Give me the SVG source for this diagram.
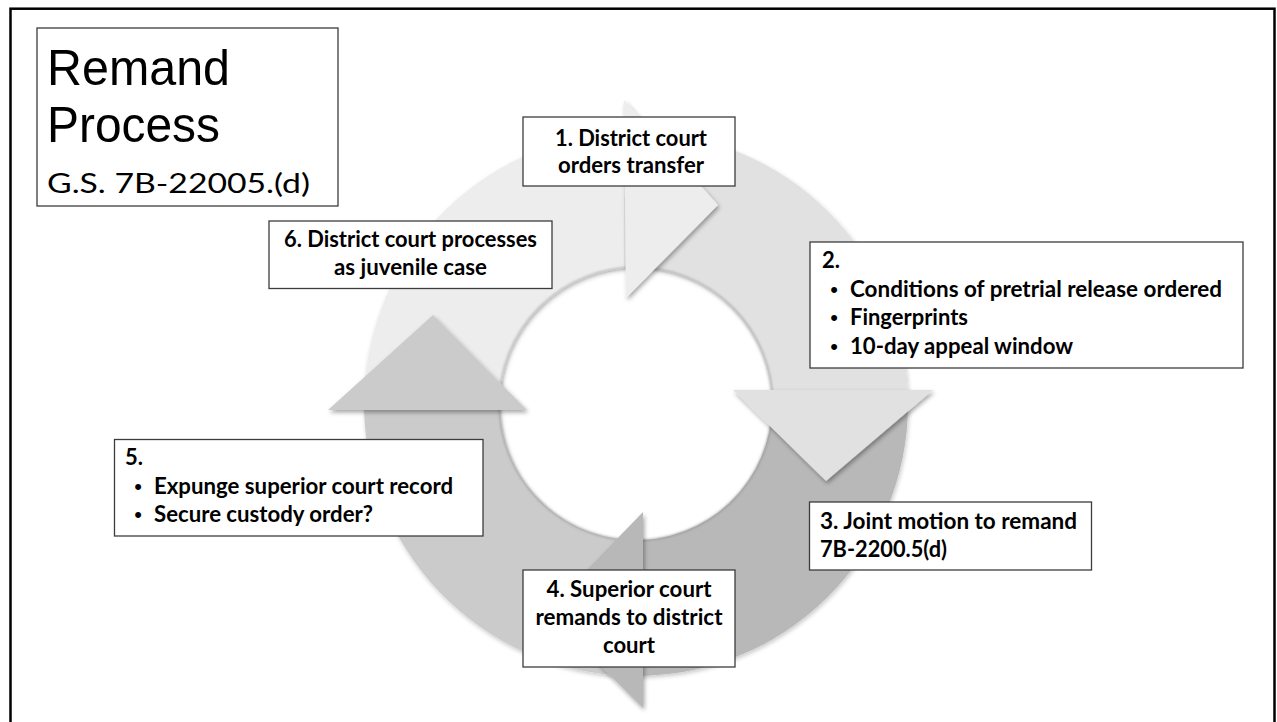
<svg xmlns="http://www.w3.org/2000/svg" width="1277" height="722" viewBox="0 0 1277 722">
  <defs>
    <style>
      .box { fill:#ffffff; stroke:#3c3c3c; stroke-width:1.3; }
      .t { font-family: Lato, "Open Sans", "Liberation Sans", sans-serif; font-weight:700; font-size:22px; fill:#000000; }
      .mid { text-anchor: middle; }
      .bul { font-family: "Liberation Sans", Arial, sans-serif; font-size:22px; fill:#000000; text-anchor: middle; }
      .title { font-family: "Liberation Sans", Arial, sans-serif; font-weight:400; fill:#000000; }
      .sub { font-family: Lato, "Open Sans", "Liberation Sans", sans-serif; font-weight:400; fill:#000000; }
      .a1 { fill:#ededed; }
      .a2 { fill:#e1e1e1; }
      .a3 { fill:#b8b8b8; }
      .a4 { fill:#cbcbcb; }
    </style>
    <filter id="shBody" x="-10%" y="-10%" width="120%" height="120%">
      <feDropShadow dx="1" dy="2" stdDeviation="2" flood-color="#000000" flood-opacity="0.22"/>
    </filter>
    <filter id="shHead" x="-20%" y="-20%" width="140%" height="140%">
      <feDropShadow dx="1.5" dy="2.5" stdDeviation="2.2" flood-color="#000000" flood-opacity="0.35"/>
    </filter>
    <filter id="blur1" x="-5%" y="-5%" width="110%" height="110%">
      <feGaussianBlur stdDeviation="1"/>
    </filter>
  </defs>

  <rect x="0" y="0" width="1277" height="722" fill="#ffffff"/>
  <!-- slide frame -->
  <rect x="10.5" y="8.7" width="1264" height="760" fill="none" stroke="#000000" stroke-width="2.5"/>

  <!-- cycle arrows (connectors) -->
  <g id="connectors">
    <g id="arrow-bodies" filter="url(#shBody)">
      <path class="a1" d="M364.07,410 A272,272 0 0 1 624,132.26 L624,268.53 A136,136 0 0 0 500.13,410 Z"/>
      <path class="a2" d="M624,132.26 A272,272 0 0 1 907.64,390 L771.28,390 A136,136 0 0 0 624,268.53 Z"/>
      <path class="a3" d="M907.64,390 A272,272 0 0 1 643,675.91 L643,539.82 A136,136 0 0 0 771.28,390 Z"/>
      <path class="a4" d="M643,675.91 A272,272 0 0 1 364.07,410 L500.13,410 A136,136 0 0 0 643,539.82 Z"/>
    </g>
    <circle cx="636" cy="404" r="136.5" fill="none" stroke="#8a8a8a" stroke-opacity="0.55" stroke-width="2" filter="url(#blur1)"/>
    <g id="arrow-heads" filter="url(#shHead)">
      <polygon class="a1" points="624,100 718,205 626,298"/>
      <polygon class="a2" points="733,390 933,390 826,481"/>
      <polygon class="a3" points="643,512 643,708 546,612"/>
      <polygon class="a4" points="328,410 527,410 433,315"/>
    </g>
  </g>

  <!-- title -->
  <g id="title">
    <rect class="box" x="37" y="28" width="301" height="178"/>
    <text class="title" x="47" y="85" font-size="50" textLength="183" lengthAdjust="spacingAndGlyphs">Remand</text>
    <text class="title" x="47" y="142" font-size="50" textLength="173" lengthAdjust="spacingAndGlyphs">Process</text>
    <text class="sub" x="47" y="193" font-size="27" textLength="263" lengthAdjust="spacingAndGlyphs">G.S. 7B-22005.(d)</text>
  </g>

  <!-- node 1 -->
  <g id="node1">
    <rect class="box" x="523" y="117" width="212" height="69"/>
    <text class="t mid" x="631" y="146" textLength="152" lengthAdjust="spacingAndGlyphs">1. District court</text>
    <text class="t mid" x="631" y="173" textLength="146" lengthAdjust="spacingAndGlyphs">orders transfer</text>
  </g>

  <!-- node 2 -->
  <g id="node2">
    <rect class="box" x="810" y="242" width="433" height="126"/>
    <text class="t" x="822" y="268">2.</text>
    <text class="bul" x="834" y="296.5">•</text>
    <text class="t" x="850" y="296.5" textLength="372" lengthAdjust="spacingAndGlyphs">Conditions of pretrial release ordered</text>
    <text class="bul" x="834" y="325">•</text>
    <text class="t" x="850" y="325" textLength="118" lengthAdjust="spacingAndGlyphs">Fingerprints</text>
    <text class="bul" x="834" y="353.5">•</text>
    <text class="t" x="850" y="353.5" textLength="223" lengthAdjust="spacingAndGlyphs">10-day appeal window</text>
  </g>

  <!-- node 3 -->
  <g id="node3">
    <rect class="box" x="809.5" y="502" width="282" height="68"/>
    <text class="t" x="820" y="529.3" textLength="257" lengthAdjust="spacingAndGlyphs">3. Joint motion to remand</text>
    <text class="t" x="820" y="557.3" textLength="127" lengthAdjust="spacingAndGlyphs">7B-2200.5(d)</text>
  </g>

  <!-- node 4 -->
  <g id="node4">
    <rect class="box" x="523" y="570" width="212" height="97"/>
    <text class="t mid" x="629" y="596.7" textLength="165" lengthAdjust="spacingAndGlyphs">4. Superior court</text>
    <text class="t mid" x="629" y="625" textLength="187" lengthAdjust="spacingAndGlyphs">remands to district</text>
    <text class="t mid" x="629" y="653.3" textLength="52" lengthAdjust="spacingAndGlyphs">court</text>
  </g>

  <!-- node 5 -->
  <g id="node5">
    <rect class="box" x="114.5" y="439.5" width="368.5" height="96.5"/>
    <text class="t" x="125" y="465">5.</text>
    <text class="bul" x="138" y="494">•</text>
    <text class="t" x="154" y="494" textLength="299" lengthAdjust="spacingAndGlyphs">Expunge superior court record</text>
    <text class="bul" x="138" y="522">•</text>
    <text class="t" x="154" y="522" textLength="219" lengthAdjust="spacingAndGlyphs">Secure custody order?</text>
  </g>

  <!-- node 6 -->
  <g id="node6">
    <rect class="box" x="269" y="221" width="283" height="67.5"/>
    <text class="t mid" x="410.5" y="247" textLength="253" lengthAdjust="spacingAndGlyphs">6. District court processes</text>
    <text class="t mid" x="410.5" y="275" textLength="153" lengthAdjust="spacingAndGlyphs">as juvenile case</text>
  </g>
</svg>
